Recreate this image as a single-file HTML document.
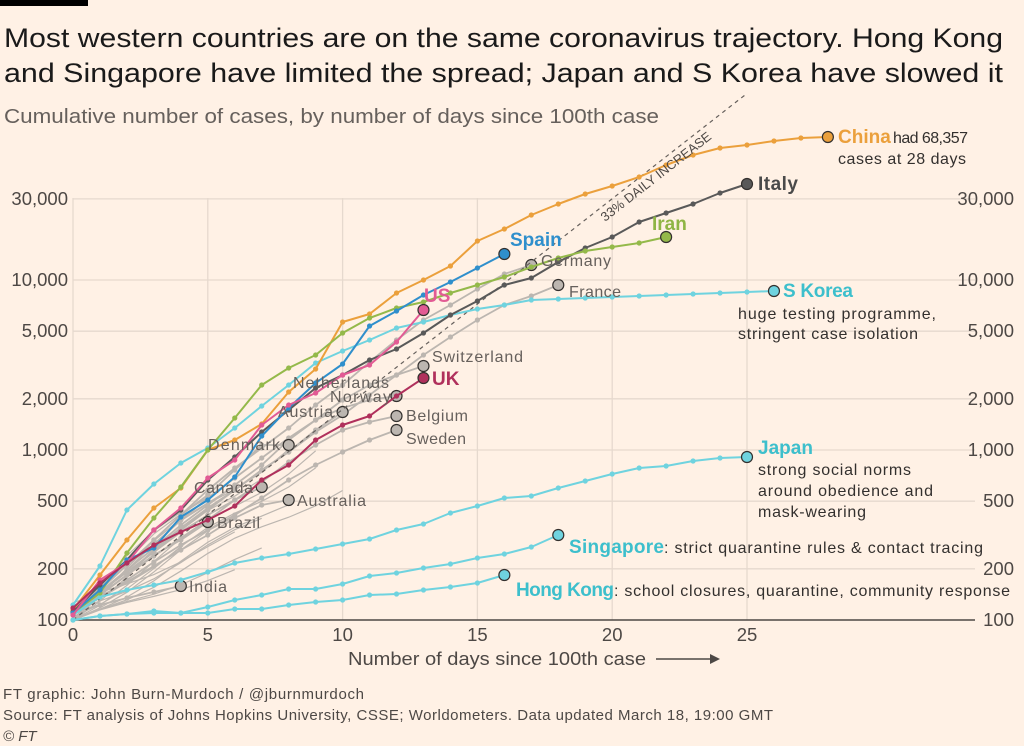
<!DOCTYPE html>
<html><head><meta charset="utf-8">
<style>
body{margin:0;background:#fff1e5;width:1024px;height:746px;overflow:hidden;font-family:"Liberation Sans",sans-serif;}
svg{position:absolute;left:0;top:0}
</style></head><body>
<svg id="s" width="1024" height="746" viewBox="0 0 1024 746" font-family="Liberation Sans, sans-serif">
<rect x="0" y="0" width="88" height="6" fill="#000"/>
<text x="4" y="47" font-size="27" fill="#1a1a1a" textLength="999" lengthAdjust="spacingAndGlyphs">Most western countries are on the same coronavirus trajectory. Hong Kong</text>
<text x="4" y="82" font-size="27" fill="#1a1a1a" textLength="999" lengthAdjust="spacingAndGlyphs">and Singapore have limited the spread; Japan and S Korea have slowed it</text>
<text x="4" y="123" font-size="20" fill="#66605c" textLength="655" lengthAdjust="spacingAndGlyphs">Cumulative number of cases, by number of days since 100th case</text>
<g id="grid" stroke="#e6d9ce" stroke-width="1.3"></g>
<g id="ylab" font-size="18.5" fill="#4d4845"></g>
<g id="series"></g>
<g font-size="16" fill="#66605c" lengthAdjust="spacingAndGlyphs">
<text x="541" y="266" textLength="70">Germany</text>
<text x="569" y="297" textLength="52">France</text>
<text x="432" y="362" textLength="91">Switzerland</text>
<text x="293" y="388" textLength="96">Netherlands</text>
<text x="330" y="402" textLength="61">Norway</text>
<text x="278" y="417" textLength="55">Austria</text>
<text x="406" y="421" textLength="62">Belgium</text>
<text x="406" y="444" textLength="60">Sweden</text>
<text x="208" y="450" textLength="72">Denmark</text>
<text x="194" y="493" textLength="59">Canada</text>
<text x="297" y="506" textLength="69">Australia</text>
<text x="217" y="528" textLength="43">Brazil</text>
<text x="189" y="592" textLength="38">India</text>
<text x="605" y="222" transform="rotate(-38 605 222)" font-size="13" fill="#4d4845">33% DAILY INCREASE</text>
</g>
<g font-size="19" font-weight="bold">
<text x="838" y="143" fill="#eba03c">China</text>
<text x="758" y="190" fill="#4a4a4a" textLength="40">Italy</text>
<text x="652" y="230" fill="#8fb545">Iran</text>
<text x="510" y="246" fill="#2f8fcc">Spain</text>
<text x="424" y="302" fill="#e25b94">US</text>
<text x="432" y="385" fill="#b0305c">UK</text>
<text x="783" y="297" fill="#3dbfcc" textLength="70">S Korea</text>
<text x="758" y="454" fill="#3dbfcc" textLength="55">Japan</text>
<text x="569" y="553" fill="#3dbfcc" textLength="95">Singapore</text>
<text x="516" y="596" fill="#3dbfcc" textLength="98">Hong Kong</text>
</g>
<g font-size="16" fill="#33302e" lengthAdjust="spacingAndGlyphs">
<text x="893" y="143" textLength="75">had 68,357</text>
<text x="838" y="164" textLength="128">cases at 28 days</text>
<text x="738" y="319" textLength="198">huge testing programme,</text>
<text x="738" y="339" textLength="180">stringent case isolation</text>
<text x="758" y="475" textLength="153">strong social norms</text>
<text x="758" y="496" textLength="175">around obedience and</text>
<text x="758" y="517" textLength="108">mask-wearing</text>
<text x="664" y="553" textLength="319">: strict quarantine rules &amp; contact tracing</text>
<text x="614" y="596" textLength="396">: school closures, quarantine, community response</text>
</g>
<text x="348" y="665" font-size="18" fill="#4d4845" textLength="298" lengthAdjust="spacingAndGlyphs">Number of days since 100th case</text>
<line x1="656" y1="659" x2="712" y2="659" stroke="#4d4845" stroke-width="1.5"/>
<polygon points="720,659 710,654 710,664" fill="#4d4845"/>
<g font-size="15" fill="#4d4845" lengthAdjust="spacingAndGlyphs">
<text x="3" y="699" textLength="361">FT graphic: John Burn-Murdoch / @jburnmurdoch</text>
<text x="3" y="720" textLength="770">Source: FT analysis of Johns Hopkins University, CSSE; Worldometers. Data updated March 18, 19:00 GMT</text>
<text x="3" y="741" font-style="italic">© FT</text>
</g>
</svg>
<script>
var NS="http://www.w3.org/2000/svg";
function el(t,a,p){var e=document.createElementNS(NS,t);for(var k in a)e.setAttribute(k,a[k]);if(p)p.appendChild(e);return e;}
function X(d){return 73+26.96*d;}
function Y(v){return 620-170*(Math.log10(v)-2);}
var g=document.getElementById('grid'),yl=document.getElementById('ylab'),S=document.getElementById('series');
[0,5,10,15,20,25].forEach(function(d){el('line',{x1:X(d),y1:198,x2:X(d),y2:620},g);
 var t=el('text',{x:X(d),y:641,'text-anchor':'middle'},yl);t.textContent=d;});
[[100,'100'],[200,'200'],[500,'500'],[1000,'1,000'],[2000,'2,000'],[5000,'5,000'],[10000,'10,000'],[30000,'30,000']].forEach(function(v){
 var y=Y(v[0]);if(v[0]>100)el('line',{x1:73,y1:y,x2:975,y2:y},g);
 var t=el('text',{x:68,y:y+6,'text-anchor':'end'},yl);t.textContent=v[1];
 t=el('text',{x:1014,y:y+6,'text-anchor':'end'},yl);t.textContent=v[1];});
el('line',{x1:73,y1:620,x2:975,y2:620,stroke:'#4d4845','stroke-width':1.5},S);
var grey='#bcb6b0';
var gl=[[0.0,0.12,7],[0.0,0.10,6],[0.0,0.09,8],[0.05,0.08,7],[0.0,0.14,5],[0.0,0.06,7],[0.1,0.07,6],[0.0,0.11,9],[0.02,0.10,9],[0.0,0.05,6],[0.0,0.13,6],[0.08,0.09,4],[0.0,0.15,4],[0.0,0.08,10],[0.04,0.12,8]];
gl.forEach(function(a){var pts=[];var v=2+a[0];for(var d=0;d<=a[2];d++){pts.push(X(d)+','+(620-170*(v-2)));v+=a[1]*(1+0.3*Math.sin(d+a[1]*50));}
 el('polyline',{points:pts.join(' '),fill:'none',stroke:grey,'stroke-width':1.2},S);});
function ser(ys,c,w,dot,endR,ec){var pts=ys.map(function(y,i){return [X(i),y];});
 el('polyline',{points:pts.map(function(p){return p.join(',')}).join(' '),fill:'none',stroke:c,'stroke-width':w,'stroke-linejoin':'round'},S);
 if(dot)pts.forEach(function(p){el('circle',{cx:p[0],cy:p[1],r:2.6,fill:c},S);});
 var p=pts[pts.length-1];el('circle',{cx:p[0],cy:p[1],r:endR||5,fill:c,stroke:ec||'#33302e','stroke-width':1.2},S);}
var gs=[
 [[608,590,565,540,515,490,468,448,428,405,385,362,340,320,305,289,274,265],grey],
 [[612,595,575,550,528,508,490,470,452,432,415,395,375,355,337,320,305,296,285],grey],
 [[612,592,570,548,525,505,485,465,440,420,400,385,375,366],grey],
 [[612,590,565,545,520,498,478,458,438,420,408,400,396],grey],
 [[612,592,572,552,530,510,490,470,452,430,412],grey],
 [[612,595,575,556,538,520,500,482,462,445,430,422,416],grey],
 [[612,598,580,562,545,530,515,498,480,465,452,440,430],grey],
 [[612,588,565,540,515,495,470,445,445],grey],
 [[612,592,572,552,532,515,500,487],grey],
 [[612,598,582,566,550,535,518,505,500],grey],
 [[612,595,575,555,540,522],grey],
 [[612,605,598,592,586],grey]];
gs.forEach(function(s){ser(s[0],s[1],1.8,true,5.5);});
el('line',{x1:73,y1:620,x2:745,y2:95,stroke:'#66605c','stroke-width':1.2,'stroke-dasharray':'4,4'},S);
var cy='#6fd3df';
ser([620,616,614,613,613,613,609,609,605,602,600,595,594,590,587,583,575],cy,2,true,5.5);
ser([620,616,614,611,613,607,600,595,589,589,584,576,573,568,564,558,554,547,535],cy,2,true,5.5);
ser([615,597,590,585,580,572,563,558,554,549,544,539,530,524,513,506,498,496,488,481,474,468,466,461,458,457],cy,2,true,5.5);
ser([605,566,510,484,463,448,428,406,385,363,351,340,328,322,315,309,305,300,299,298,297,296,295,294,293,292,291],cy,2,true,5.5);
ser([610,575,540,508,488,450,440,424,392,369,322,314,293,280,266,241,229,215,204,194,186,177,165,155,148,145,141,138,137],'#eba03c',2,true,5.5);
ser([612,585,560,530,510,480,457,432,410,388,375,360,349,333,315,301,285,278,262,248,237,222,213,204,193,184],'#595959',2,true,5.5);
ser([613,593,553,518,487,450,418,385,368,355,333,318,308,302,293,285,277,267,258,251,247,243,237],'#94b94a',2,true,5.5);
ser([613,590,560,548,517,500,477,436,408,383,364,326,311,295,282,268,254],'#2f8fcc',2,true,5.5);
ser([615,580,563,530,508,478,460,425,405,393,375,365,342,310],'#e25b94',2,true,5.5);
ser([608,583,563,545,532,520,506,480,465,440,425,416,396,378],'#b0305c',2,true,5.5);
</script>
</body></html>
